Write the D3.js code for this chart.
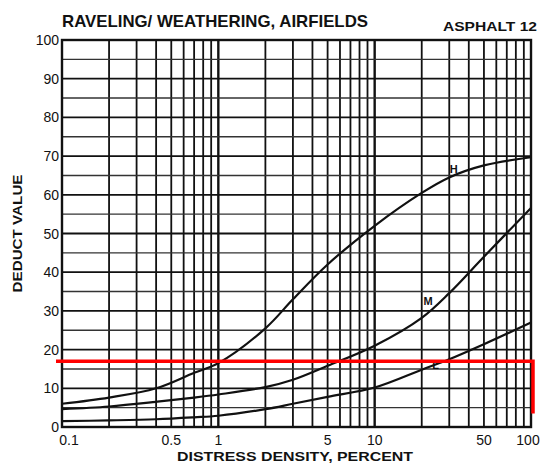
<!DOCTYPE html>
<html>
<head>
<meta charset="utf-8">
<script src="https://cdn.jsdelivr.net/npm/d3@7"></script>
<style>
  body { margin: 0; background: #fff; }
  svg { display: block; }
  text { font-family: "Liberation Sans", "DejaVu Sans", sans-serif; fill: #111; }
</style>
</head>
<body>
<svg id="grafico" width="544" height="466"></svg>
<script>
var width = 544,
    height = 466,
    margin = {top: 40, right: 13, bottom: 39, left: 62}

// densidade (%) e valores de dedução
var densidade = [0.1, 0.2, 0.4, 0.7, 1, 2, 3, 5, 10, 20, 30, 50, 100]
var curvaH = [6, 7.6, 10, 14, 16.5, 25.5, 33, 42, 52, 60.5, 64.5, 67.6, 69.7]
var curvaM = [4.6, 5.3, 6.5, 7.6, 8.4, 10.3, 12.2, 15.8, 21, 28.2, 34.6, 44, 56.6]
var curvaL = [1.5, 1.7, 2.0, 2.5, 2.9, 4.6, 6.0, 7.8, 10.2, 14.8, 17.5, 21.4, 27]
var rotulos = ["H", "M", "L"]
var posRotulo = [[32, 65.6], [22, 31.5], [24.5, 15]] // densidade, valor do rótulo

var ticksX = [0.1, 0.5, 1, 5, 10, 50, 100],
    labelsX = ["0.1", "0.5", "1", "5", "10", "50", "100"],
    ticksY = [0, 10, 20, 30, 40, 50, 60, 70, 80, 90, 100]

// linha vermelha: nível de dedução e ponto final
var nivelVermelho = 17,
    fimVermelho = 3.5

var svg = d3.select("#grafico")

var x = d3.scaleLog().domain([0.1, 100]).range([margin.left, width - margin.right])
var y = d3.scaleLinear().domain([0, 100]).range([height - margin.bottom, margin.top])

// grade vertical (papel log)
var linhasX = []
;[0.1, 1, 10].forEach(function(dec) {
    for (var i = 1; i <= 9; i++) linhasX.push(+(dec * i).toPrecision(3))
})
linhasX.push(100)

svg.append("g").selectAll("line")
    .data(linhasX)
  .enter().append("line")
    .attr("x1", function(d) { return x(d) })
    .attr("x2", function(d) { return x(d) })
    .attr("y1", y(100))
    .attr("y2", y(0))
    .attr("stroke", "#111")
    .attr("stroke-width", function(d) { return (d == 1 || d == 10) ? 2.4 : 1.8 })

// grade horizontal a cada 5
svg.append("g").selectAll("line")
    .data(d3.range(0, 101, 5))
  .enter().append("line")
    .attr("x1", x(0.1))
    .attr("x2", x(100))
    .attr("y1", function(d) { return y(d) })
    .attr("y2", function(d) { return y(d) })
    .attr("stroke", function(d) { return d % 10 == 0 ? "#111" : "#333" })
    .attr("stroke-width", function(d) { return d % 10 == 0 ? 1.8 : 1.4 })

// moldura
svg.append("rect")
    .attr("x", x(0.1))
    .attr("y", y(100))
    .attr("width", x(100) - x(0.1))
    .attr("height", y(0) - y(100))
    .attr("fill", "none")
    .attr("stroke", "#111")
    .attr("stroke-width", 2.4)

// curvas
var linha = d3.line()
    .x(function(d) { return x(d[0]) })
    .y(function(d) { return y(d[1]) })
    .curve(d3.curveCatmullRom.alpha(0.5))

;[curvaH, curvaM, curvaL].forEach(function(serie, i) {
    svg.append("path")
        .datum(d3.zip(densidade, serie))
        .attr("d", linha)
        .attr("fill", "none")
        .attr("stroke", "#111")
        .attr("stroke-width", 2.2)
    svg.append("text")
        .attr("x", x(posRotulo[i][0]))
        .attr("y", y(posRotulo[i][1]))
        .attr("text-anchor", "middle")
        .style("font-size", "11px")
        .style("font-weight", "bold")
        .text(rotulos[i])
})

// eixo y
svg.append("g").selectAll("text")
    .data(ticksY)
  .enter().append("text")
    .attr("x", x(0.1) - 3)
    .attr("y", function(d) { return y(d) + 5 })
    .attr("text-anchor", "end")
    .style("font-size", "14px")
    .text(function(d) { return d })

// eixo x
svg.append("g").selectAll("text")
    .data(ticksX)
  .enter().append("text")
    .attr("x", function(d, i) { return i == 0 ? x(d) + 7 : (i == ticksX.length - 1 ? x(d) - 3 : x(d)) })
    .attr("y", y(0) + 18)
    .attr("text-anchor", "middle")
    .style("font-size", "14px")
    .text(function(d, i) { return labelsX[i] })

// títulos
svg.append("text")
    .attr("x", 62)
    .attr("y", 27)
    .attr("textLength", 306)
    .attr("lengthAdjust", "spacingAndGlyphs")
    .style("font-size", "17px")
    .style("font-weight", "bold")
    .text("RAVELING/ WEATHERING, AIRFIELDS")

svg.append("text")
    .attr("x", 443)
    .attr("y", 31)
    .attr("textLength", 94)
    .attr("lengthAdjust", "spacingAndGlyphs")
    .style("font-size", "12px")
    .style("font-weight", "bold")
    .text("ASPHALT 12")

svg.append("text")
    .attr("transform", "translate(22," + y(50) + ") rotate(-90)")
    .attr("text-anchor", "middle")
    .attr("textLength", 118)
    .attr("lengthAdjust", "spacingAndGlyphs")
    .style("font-size", "13px")
    .style("font-weight", "bold")
    .text("DEDUCT VALUE")

svg.append("text")
    .attr("x", 177)
    .attr("y", 461)
    .attr("textLength", 236)
    .attr("lengthAdjust", "spacingAndGlyphs")
    .style("font-size", "13px")
    .style("font-weight", "bold")
    .text("DISTRESS DENSITY, PERCENT")

// linha vermelha
svg.append("path")
    .attr("d", d3.line()([
        [x(0.1) - 6, y(nivelVermelho)],
        [x(100) + 2, y(nivelVermelho)],
        [x(100) + 2, y(fimVermelho)]
    ]))
    .attr("fill", "none")
    .attr("stroke", "#ff0000")
    .attr("stroke-width", 3.5)
</script>
</body>
</html>
